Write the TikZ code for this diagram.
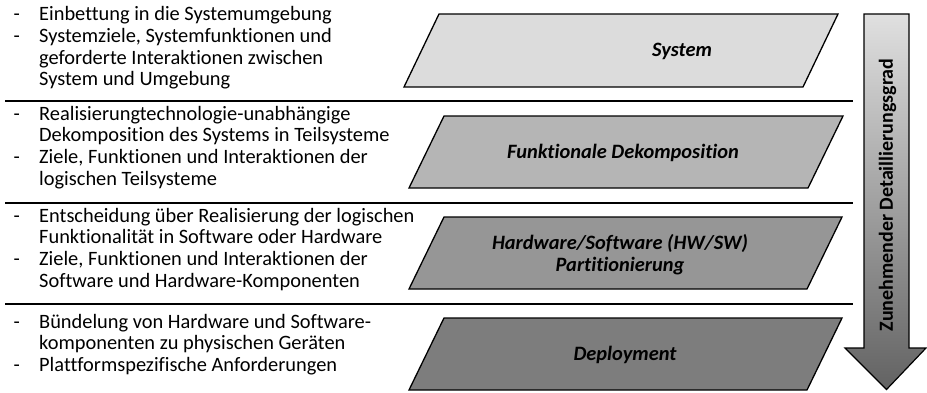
\documentclass[tikz,border=0pt]{standalone}
\usepackage{fontspec}
\setmainfont{Carlito}[Ligatures=NoCommon]
\definecolor{layA}{HTML}{DCDCDC}
\definecolor{layB}{HTML}{B5B5B5}
\definecolor{layC}{HTML}{969696}
\definecolor{layD}{HTML}{7D7D7D}
\definecolor{arrTop}{HTML}{E0E0E0}
\definecolor{arrBot}{HTML}{626262}
% one bullet line and one continuation line of the left-hand descriptions
\newcommand\dashitem[1]{\makebox[28pt][l]{\hspace{2.5pt}-}#1}
\newcommand\contline[1]{\hspace*{28pt}#1}
\begin{document}
\begin{tikzpicture}[x=1pt,y=-1pt,
  layer/.style={draw=black, line width=1.3pt, line join=miter},
  sepline/.style={draw=black, line width=1.6pt},
  desc/.style={anchor=base west, inner sep=0pt, align=left,
    font=\fontsize{20.4}{21.8}\selectfont},
  title/.style={align=center, inner sep=0pt,
    font=\fontsize{20.4}{22}\selectfont\bfseries\itshape}]
\useasboundingbox (0,0) rectangle (927,392);

% descriptions on the left (placed by the baseline of their last line)
\node[desc] (d1) at (11,85.9) {\dashitem{Einbettung in die Systemumgebung}\\
  \dashitem{Systemziele, Systemfunktionen und}\\
  \contline{geforderte Interaktionen zwischen}\\
  \contline{System und Umgebung}};
\node[desc] (d2) at (11,185.4) {\dashitem{Realisierungtechnologie-unabhängige}\\
  \contline{Dekomposition des Systems in Teilsysteme}\\
  \dashitem{Ziele, Funktionen und Interaktionen der}\\
  \contline{logischen Teilsysteme}};
\node[desc] (d3) at (11,287.4) {\dashitem{Entscheidung über Realisierung der logischen}\\
  \contline{Funktionalität in Software oder Hardware}\\
  \dashitem{Ziele, Funktionen und Interaktionen der}\\
  \contline{Software und Hardware-Komponenten}};
\node[desc] (d4) at (11,371.6) {\dashitem{Bündelung von Hardware und Software-}\\
  \contline{komponenten zu physischen Geräten}\\
  \dashitem{Plattformspezifische Anforderungen}};

% separators between the levels
\coordinate (s1a) at (5,101);  \coordinate (s1b) at (853,101);
\coordinate (s2a) at (5,203);  \coordinate (s2b) at (853,203);
\coordinate (s3a) at (5,304);  \coordinate (s3b) at (853,304);
\draw[sepline] (s1a) -- (s1b);
\draw[sepline] (s2a) -- (s2b);
\draw[sepline] (s3a) -- (s3b);

% the four abstraction levels
\draw[layer, fill=layA] (439,14) -- (838,14) -- (803,87) -- (404,87) -- cycle;
\node[title] (sys) at (682,51) {System};

\draw[layer, fill=layB] (444,116) -- (843,116) -- (808,188) -- (409,188) -- cycle;
\node[title] (fun) at (623,153) {Funktionale Dekomposition};

\draw[layer, fill=layC] (444,217) -- (842,217) -- (807,289) -- (409,289) -- cycle;
\node[title] (hw) at (620,255) {Hardware/Software (HW/SW)\\Partitionierung};

\draw[layer, fill=layD] (444,318) -- (842,318) -- (807,390) -- (409,390) -- cycle;
\node[title] (dep) at (625,355) {Deployment};

% increasing level of detail
\path[draw=black, line width=1.2pt, line join=miter, top color=arrTop, bottom color=arrBot]
  (864,14) -- (909,14) -- (909,348) -- (926,348) -- (886.5,389.5)
  -- (845,348) -- (864,348) -- cycle;
\node[rotate=90, inner sep=0pt, font=\fontsize{20}{22}\selectfont\bfseries]
  (detail) at (887.5,195) {Zunehmender Detaillierungsgrad};
\end{tikzpicture}
\end{document}
